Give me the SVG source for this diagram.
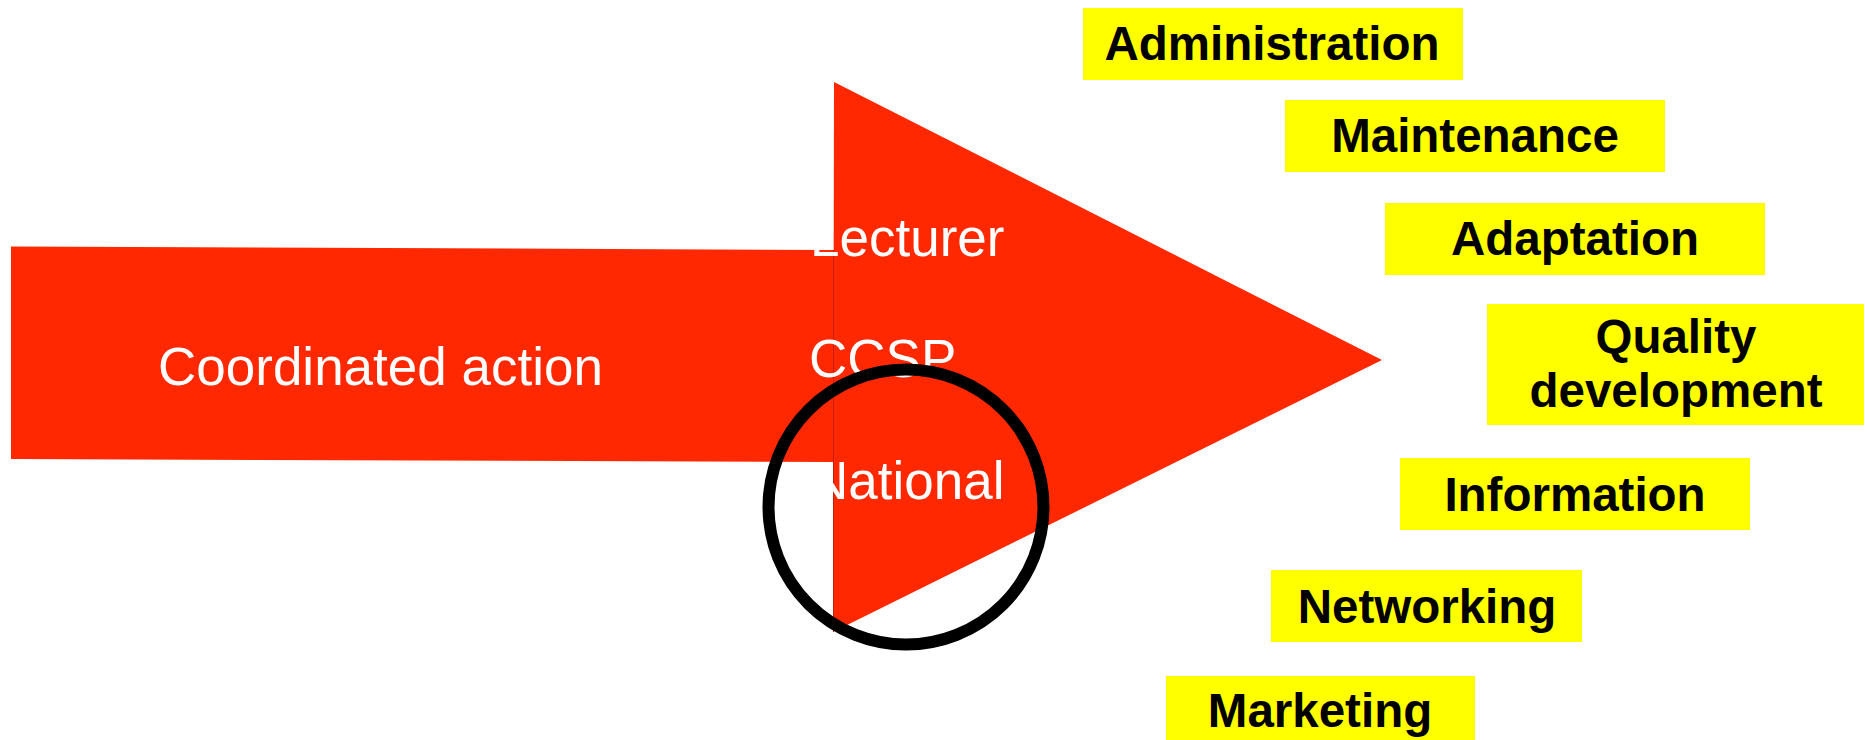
<svg xmlns="http://www.w3.org/2000/svg" width="1867" height="740" viewBox="0 0 1867 740">
  <style>
    .red { fill: #FF2800; }
    .box { fill: #FFFF00; }
    .lbl { font-family: "Liberation Sans", Arial, sans-serif; font-weight: bold; font-size: 47.5px; fill: #000; text-anchor: middle; }
    .wht { font-family: "Liberation Sans", Arial, sans-serif; font-size: 53px; fill: #fff; }
  </style>
  <rect width="1867" height="740" fill="#fff"/>
  <g id="arrow">
    <polygon class="red" points="11,246.5 834,250 834,462 11,459"/>
    <polygon class="red" points="834,82 1382,360 833,632"/>
    <line x1="833.5" y1="250" x2="833.5" y2="632" stroke="#C81E00" stroke-width="1"/>
    <text class="wht" x="158" y="385">Coordinated action</text>
    <text class="wht" x="810" y="256">Lecturer</text>
    <text class="wht" x="809" y="377">CCSP</text>
    <text class="wht" x="810" y="499">National</text>
  </g>
  <g id="highlight">
    <circle cx="906" cy="507" r="137.5" fill="none" stroke="#000" stroke-width="12"/>
  </g>
  <g id="connectors"/>
  <g id="administration">
    <rect class="box" x="1083" y="8" width="380" height="72"/>
    <text class="lbl" x="1272" y="60">Administration</text>
  </g>
  <g id="maintenance">
    <rect class="box" x="1285" y="100" width="380" height="72"/>
    <text class="lbl" x="1475" y="152">Maintenance</text>
  </g>
  <g id="adaptation">
    <rect class="box" x="1385" y="203" width="380" height="72"/>
    <text class="lbl" x="1575" y="255">Adaptation</text>
  </g>
  <g id="quality">
    <rect class="box" x="1487" y="304" width="377" height="121"/>
    <text class="lbl" x="1676" y="353">Quality</text>
    <text class="lbl" x="1676" y="407">development</text>
  </g>
  <g id="information">
    <rect class="box" x="1400" y="458" width="350" height="72"/>
    <text class="lbl" x="1575" y="511">Information</text>
  </g>
  <g id="networking">
    <rect class="box" x="1271" y="570" width="311" height="72"/>
    <text class="lbl" x="1427" y="623">Networking</text>
  </g>
  <g id="marketing">
    <rect class="box" x="1166" y="676" width="309" height="72"/>
    <text class="lbl" x="1320" y="727">Marketing</text>
  </g>
</svg>
